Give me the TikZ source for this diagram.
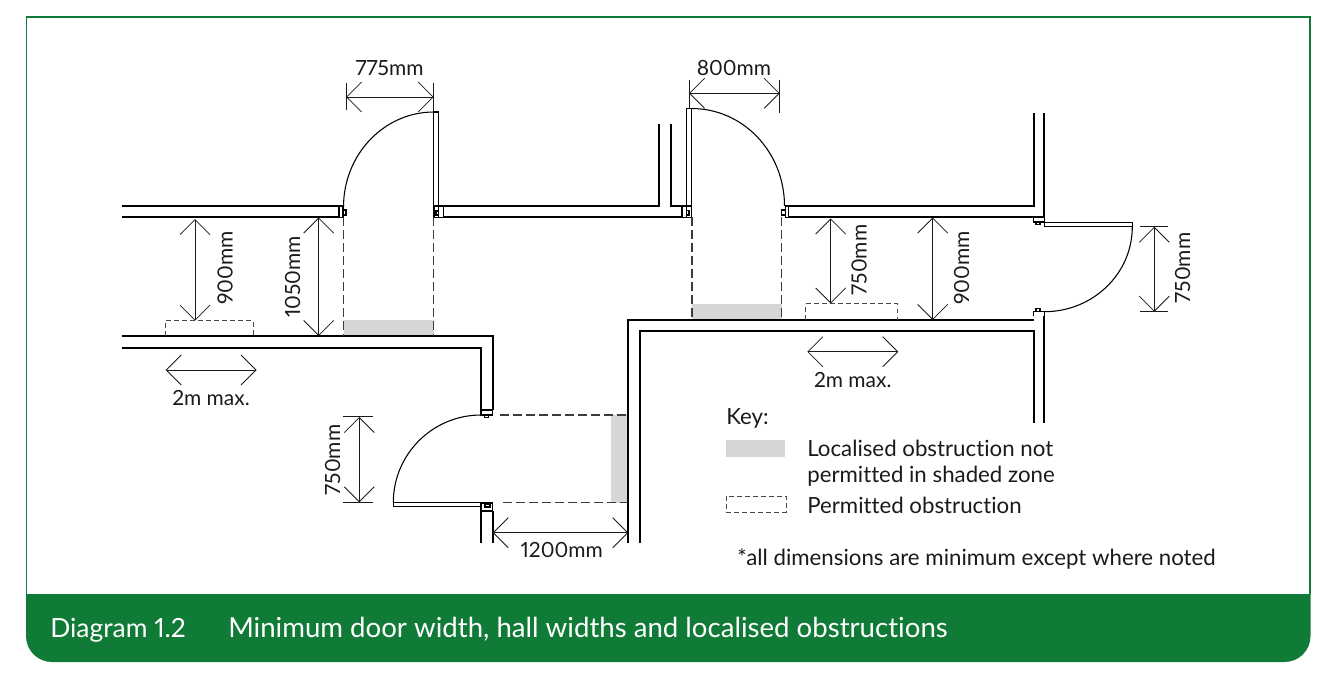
\documentclass[tikz,border=0pt]{standalone}
\usepackage{fontspec}
\setmainfont{Lato}[Numbers=Proportional,Ligatures=NoCommon]
\usetikzlibrary{arrows.meta}
\definecolor{band}{HTML}{107A37}
\definecolor{zonegrey}{HTML}{D6D6D6}
\definecolor{ink}{HTML}{1A1A1A}
\tikzset{
  wall/.style={draw=black,line width=1.5pt},
  leaf/.style={draw=black,line width=0.8pt,fill=white},
  swing/.style={draw=black,line width=0.8pt},
  jamb/.style={draw=black,line width=0.8pt,fill=white},
  guide/.style={draw=ink!85,line width=0.8pt,dash pattern=on 6.75pt off 3pt},
  obstruct/.style={draw=ink!80,line width=0.6pt,dash pattern=on 3.6pt off 2.4pt},
  dim/.style={draw=ink,line width=0.6pt,{Straight Barb[length=11.25pt,width=22.5pt,line width=0.6pt]}-{Straight Barb[length=11.25pt,width=22.5pt,line width=0.6pt]}},
  tick/.style={draw=ink,line width=0.6pt},
  lab/.style={text=ink,font=\fontsize{15.7}{19}\selectfont,inner sep=0pt},
  keylab/.style={text=ink,font=\fontsize{16.7}{19}\selectfont,inner sep=0pt,anchor=west},
  captext/.style={text=white,font=\fontsize{20.7}{24}\selectfont,inner sep=0pt,anchor=base west},
}
\begin{document}
\begin{tikzpicture}[x=0.75pt,y=-0.75pt]
\useasboundingbox (0,0) rectangle (1330,690);
% frame and caption band
\draw[band,line width=0.9pt] (26.5,594) -- (26.5,17) -- (1310,17) -- (1310,594);
\fill[band] (26,594) -- (1310.5,594) -- (1310.5,636) .. controls (1310.5,650.4) and (1298.9,662) .. (1284.5,662) -- (52,662) .. controls (37.6,662) and (26,650.4) .. (26,636) -- cycle;
\node[captext,font=\fontsize{19.8}{24}\selectfont] (capa) at (50,637) {Diagram 1.2};
\node[captext] (capb) at (228,637) {Minimum door width, hall widths and localised obstructions};
% shaded zones
\fill[zonegrey] (343.5,320) rectangle (433.5,336);
\fill[zonegrey] (692,304) rectangle (782,319.5);
\fill[zonegrey] (611,415) rectangle (627.5,502.5);
% walls
\draw[wall] (122,206) -- (339,206);
\draw[wall] (122,217.3) -- (339,217.3);
\draw[wall] (443.3,206) -- (659.3,206) -- (659.3,124);
\draw[wall] (443.3,217.3) -- (682,217.3);
\draw[wall] (670.7,124) -- (670.7,206) -- (682,206);
\draw[wall] (788.7,206) -- (1033.7,206) -- (1033.7,113.3);
\draw[wall] (788.7,217.3) -- (1044.3,217.3);
\draw[wall] (1044.3,113.3) -- (1044.3,217.3);
\draw[wall] (122,336.3) -- (492.5,336.3) -- (492.5,410);
\draw[wall] (122,347.7) -- (481,347.7) -- (481,410);
\draw[wall] (481,511) -- (481,543.3);
\draw[wall] (492.5,511) -- (492.5,543.3);
\draw[wall] (640,543.3) -- (640,331) -- (1033.7,331) -- (1033.7,423.3);
\draw[wall] (628.3,543.3) -- (628.3,320) -- (1033.7,320);
\draw[wall] (1044.3,316) -- (1044.3,423.3);
% door 1
\draw[jamb] (339,206) rectangle (343,217.3);
\draw[jamb] (343,210) rectangle (346,215);
\draw[jamb] (438.5,206) rectangle (443.3,217.3);
\draw[jamb] (434,206) rectangle (438.5,217.3);
\draw[jamb] (436,211) rectangle (438.5,215);
\draw[leaf] (433.8,112) rectangle (438.3,206);
\draw[swing] (343.5,207) .. controls (343.5,154.5) and (384,112) .. (433.8,112);
% door 2
\draw[jamb] (682,206) rectangle (686.5,217.3);
\draw[jamb] (686.5,206) rectangle (691.7,217.3);
\draw[jamb] (686.5,210.5) rectangle (689,215);
\draw[leaf] (686.7,108.5) rectangle (691.7,206);
\draw[swing] (691.7,108.5) .. controls (743,108.5) and (784.5,152) .. (784.5,206);
\draw[jamb] (785.3,206) rectangle (788.7,217.3);
\draw[jamb] (781.5,210) rectangle (785.3,215);
% door 3
\draw[jamb] (1033.7,217.3) rectangle (1044.3,222);
\draw[jamb] (1036,222) rectangle (1040,224.5);
\draw[leaf] (1044.3,222.3) rectangle (1132.3,226.7);
\draw[swing] (1132.3,226.7) .. controls (1132.3,273.7) and (1093,311.7) .. (1044.3,311.7);
\draw[jamb] (1033.7,315.7) -- (1033.7,311.7) -- (1044.3,311.7) -- (1044.3,316);
\draw[jamb] (1036,308.5) rectangle (1040,311.7);
% door 4
\draw[jamb] (481,410) rectangle (492.5,415);
\draw[jamb] (484.5,415) rectangle (488.5,417.3);
\draw[swing] (481,415) .. controls (432.6,415) and (393.3,454.2) .. (393.3,502.5);
\draw[leaf] (393.3,502.3) rectangle (481,506.7);
\draw[jamb] (481,503) rectangle (492.5,511);
\draw[jamb] (485,504.5) rectangle (490,507);
% guides
\draw[guide] (343.5,217.3) -- (343.5,336);
\draw[guide] (433.5,217.3) -- (433.5,336);
\draw[guide] (692,217.3) -- (692,319.5);
\draw[guide] (781.8,217.3) -- (781.8,319.5);
\draw[guide] (500,415) -- (627.5,415);
\draw[guide] (503,502.5) -- (627.5,502.5);
% permitted obstructions
\draw[obstruct] (165.7,336) -- (165.7,320.7) -- (253.3,320.7) -- (253.3,336);
\draw[obstruct] (805.7,319.5) -- (805.7,303.7) -- (897,303.7) -- (897,319.5);
% dimension points
\coordinate (wa) at (346,97); \coordinate (wb) at (433.7,97);
\coordinate (wc) at (689,93.3); \coordinate (wd) at (779.7,93.3);
\coordinate (ha) at (195,219); \coordinate (hb) at (195,320.7);
\coordinate (hc) at (318.7,217.5); \coordinate (hd) at (318.7,336);
\coordinate (he) at (830.7,218.5); \coordinate (hf) at (830.7,303.5);
\coordinate (hg) at (932.7,217.5); \coordinate (hh) at (932.7,320);
\coordinate (ra) at (1154.3,226.7); \coordinate (rb) at (1154.3,311.7);
\coordinate (da) at (359.3,417); \coordinate (db) at (359.3,502.3);
\coordinate (ma) at (165.7,370); \coordinate (mb) at (256.6,370);
\coordinate (mc) at (807.3,351.7); \coordinate (md) at (898.3,351.7);
\coordinate (la) at (492.7,532.7); \coordinate (lb) at (628.3,532.7);
\draw[dim] (wa) -- (wb);
\draw[dim] (wc) -- (wd);
\draw[dim] (ha) -- (hb);
\draw[dim] (hc) -- (hd);
\draw[dim] (he) -- (hf);
\draw[dim] (hg) -- (hh);
\draw[dim] (ra) -- (rb);
\draw[dim] (da) -- (db);
\draw[dim] (ma) -- (mb);
\draw[dim] (mc) -- (md);
\draw[dim] (la) -- (lb);
% dimension end ticks
\draw[tick] (346,83) -- (346,110);
\draw[tick] (433.7,83) -- (433.7,112);
\draw[tick] (689,79.5) -- (689,108);
\draw[tick] (779.7,79.5) -- (779.7,112.7);
\draw[tick] (1140,226.7) -- (1167.7,226.7);
\draw[tick] (1140,311.7) -- (1167.7,311.7);
\draw[tick] (343,416.7) -- (373,416.7);
\draw[tick] (343,502.3) -- (373,502.3);
% dimension labels
\node[lab] (t775) at (389.5,68) {775mm};
\node[lab] (t800) at (734,68) {800mm};
\node[lab,rotate=90] (t900a) at (225,268) {900mm};
\node[lab,rotate=90] (t1050) at (292.7,276.7) {1050mm};
\node[lab,rotate=90] (t750a) at (859,260) {750mm};
\node[lab,rotate=90] (t900b) at (961.5,268) {900mm};
\node[lab,rotate=90] (t750b) at (1182.5,268) {750mm};
\node[lab,rotate=90] (t750c) at (332.5,460) {750mm};
\node[lab] (t2a) at (211,398) {2m max.};
\node[lab] (t2b) at (852.7,380) {2m max.};
\node[lab] (t1200) at (561.7,550) {1200mm};
% key
\node[keylab] (keyt) at (726,418.5) {Key:};
\fill[zonegrey] (726,440) rectangle (785,457);
\node[keylab] (k1) at (807,448) {Localised obstruction not};
\node[keylab] (k2) at (807,476.5) {permitted in shaded zone};
\draw[obstruct] (726,496) rectangle (786,512);
\node[keylab] (k3) at (807,505) {Permitted obstruction};
\node[keylab] (note) at (737,559) {*all dimensions are minimum except where noted};
\end{tikzpicture}
\end{document}
